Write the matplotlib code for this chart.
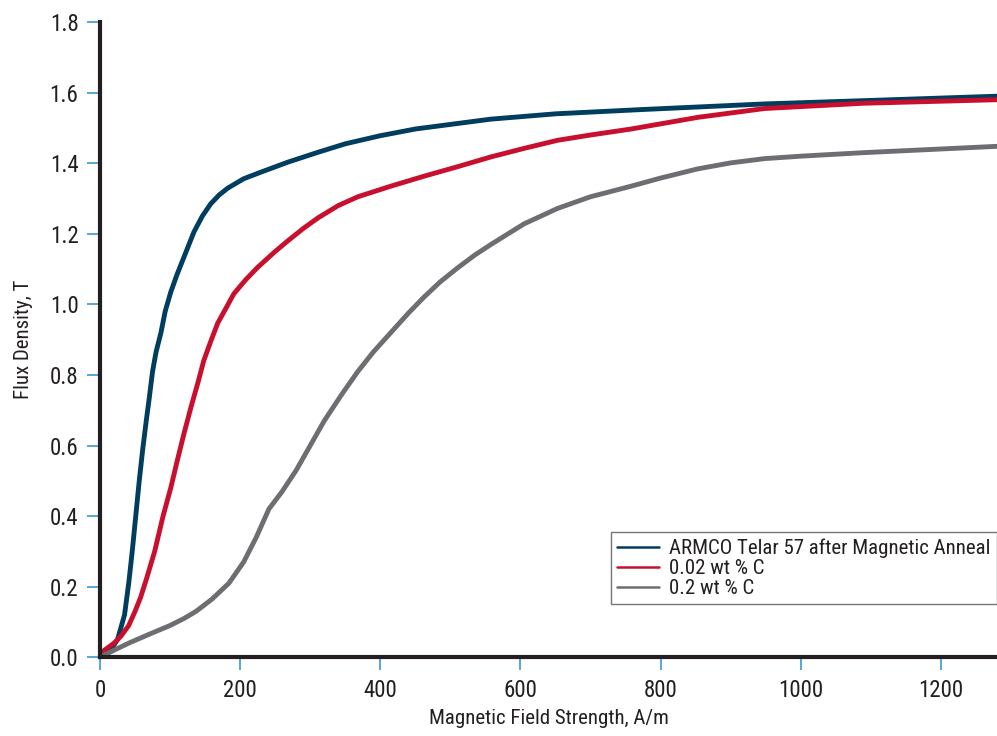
import matplotlib
matplotlib.use("Agg")
import matplotlib.pyplot as plt

# condensed face if present, otherwise Arial-like Liberation Sans
plt.rcParams['font.family'] = ['Roboto Condensed', 'Liberation Sans Narrow',
                               'Liberation Sans', 'DejaVu Sans']

# curve samples (H in A/m, B in T)
armco_h = [5, 15, 25, 35, 41, 46, 51, 56, 61, 66, 70, 75, 80, 87, 93, 101, 110, 118,
           126, 134, 146, 158, 170, 182, 205, 230, 268, 311, 350, 400, 450, 500, 558,
           650, 772, 860, 948, 1100, 1281]
armco_b = [0.005, 0.02, 0.05, 0.12, 0.21, 0.30, 0.40, 0.50, 0.59, 0.67, 0.73, 0.81,
           0.865, 0.92, 0.98, 1.035, 1.085, 1.125, 1.165, 1.205, 1.25, 1.285, 1.31,
           1.329, 1.356, 1.375, 1.403, 1.431, 1.455, 1.478, 1.497, 1.51, 1.525, 1.54,
           1.552, 1.56, 1.568, 1.578, 1.59]

c002_h = [3, 20, 30, 41, 50, 58, 66, 78, 90, 101, 110, 120, 130, 140, 148, 158, 168,
          180, 191, 208, 225, 250, 268, 290, 311, 340, 368, 415, 462, 510, 558, 605,
          653, 700, 758, 853, 948, 1090, 1281]
c002_b = [0.015, 0.04, 0.06, 0.09, 0.13, 0.17, 0.22, 0.30, 0.40, 0.48, 0.555, 0.635,
          0.71, 0.78, 0.84, 0.895, 0.947, 0.99, 1.03, 1.07, 1.105, 1.15, 1.18, 1.215,
          1.245, 1.28, 1.305, 1.335, 1.363, 1.39, 1.418, 1.442, 1.465, 1.48, 1.497,
          1.53, 1.555, 1.57, 1.58]

c02_h = [5, 20, 41, 70, 100, 120, 137, 160, 184, 205, 223, 241, 260, 280, 300, 320,
         345, 368, 390, 415, 440, 462, 485, 510, 535, 558, 605, 653, 700, 758, 800,
         853, 900, 948, 1000, 1090, 1281]
c02_b = [0.005, 0.02, 0.04, 0.065, 0.09, 0.11, 0.13, 0.165, 0.21, 0.27, 0.34, 0.42,
         0.47, 0.53, 0.60, 0.67, 0.745, 0.81, 0.865, 0.92, 0.975, 1.02, 1.063, 1.103,
         1.14, 1.17, 1.228, 1.272, 1.305, 1.335, 1.358, 1.384, 1.401, 1.413, 1.42,
         1.43, 1.448]

labels = ["ARMCO Telar 57 after Magnetic Anneal", "0.02 wt % C", "0.2 wt % C"]
colors = ["#003d5e", "#c8102e", "#6d6e71"]

xticks = [0, 200, 400, 600, 800, 1000, 1200]
yticks = [0.0, 0.2, 0.4, 0.6, 0.8, 1.0, 1.2, 1.4, 1.6, 1.8]

txt = "#231f20"
tickc = "#3a9ad0"

fig = plt.figure(figsize=(9.97, 7.36), dpi=100)
ax = fig.add_axes([0.1003, 0.107, 0.8997, 0.863])

series = [(armco_h, armco_b), (c002_h, c002_b), (c02_h, c02_b)]
for (h, b), lab, col in zip(series, labels, colors):
    ax.plot(h, b, color=col, lw=3.5, label=lab, solid_capstyle='round',
            solid_joinstyle='round')

ax.set_xlim(0, 1280)
ax.set_ylim(0, 1.8)
ax.set_xticks(xticks)
ax.set_yticks(yticks)
ax.set_yticklabels([f"{v:.1f}" for v in yticks])

for s in ['top', 'right']:
    ax.spines[s].set_visible(False)
for s in ['left', 'bottom']:
    ax.spines[s].set_linewidth(3)
    ax.spines[s].set_color(txt)

ax.tick_params(direction='out', length=9.5, width=1.2, color=tickc,
               labelcolor=txt, labelsize=16.5, pad=6)

ax.set_xlabel("Magnetic Field Strength, A/m", fontsize=15, color=txt, labelpad=5)
ax.set_ylabel("Flux Density, T", fontsize=15, color=txt, labelpad=12)

leg = ax.legend(loc='upper right', bbox_to_anchor=(1.0, 0.197), borderaxespad=0,
                fontsize=15, frameon=True, fancybox=False, handlelength=2.0,
                handletextpad=0.5, labelspacing=0.05, borderpad=0.3)
leg.get_frame().set_edgecolor("#555555")
leg.get_frame().set_linewidth(1.0)
for line in leg.get_lines():
    line.set_linewidth(1.8)
for t in leg.get_texts():
    t.set_color(txt)

fig.savefig("out.png", dpi=100)
